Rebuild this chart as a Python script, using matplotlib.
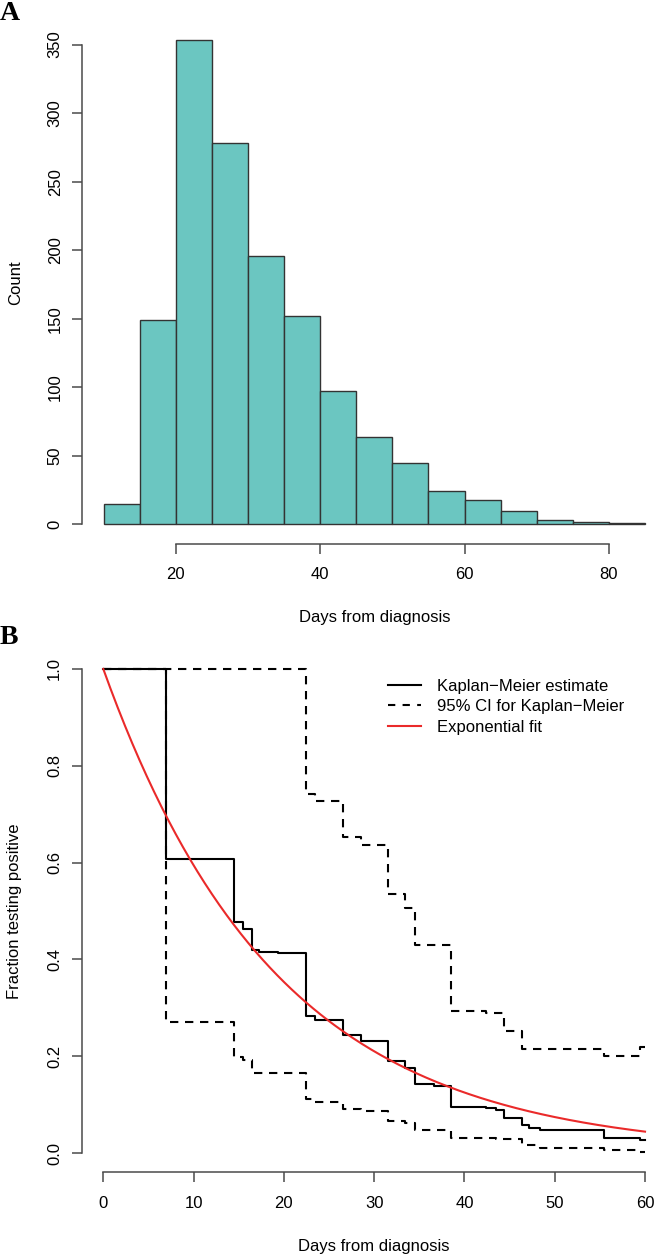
"""
Two-panel figure: histogram of days from diagnosis (A) and
Kaplan-Meier curve with exponential fit (B), drawn in an R base-graphics look.
"""

import numpy as np
import matplotlib.pyplot as plt

# ---- Panel A data: histogram of days from diagnosis ----
bin_edges = [10, 15, 20, 25, 30, 35, 40, 45, 50, 55, 60, 65, 70, 75, 80, 85]
bin_counts = [15, 149, 353, 278, 196, 152, 97, 64, 45, 24, 18, 10, 3, 2, 1]
hist_xticks = [20, 40, 60, 80]
hist_yticks = [0, 50, 100, 150, 200, 250, 300, 350]

# ---- Panel B data: Kaplan-Meier estimate and 95% CI (step changes) ----
km_times = [0, 7, 14.5, 15.5, 16.5, 17.2, 19.4, 22.5, 23.5, 26.5, 28.5, 31.5,
            33.4, 34.5, 36.6, 38.5, 42.4, 43.5, 44.4, 46.4, 47.2, 48.4, 55.5, 59.4]
km_surv = [1.0, 0.607, 0.477, 0.462, 0.42, 0.416, 0.413, 0.284, 0.275, 0.243,
           0.232, 0.19, 0.175, 0.142, 0.139, 0.094, 0.092, 0.088, 0.073, 0.057,
           0.052, 0.047, 0.032, 0.026]
km_upper = [1.0, 1.0, 1.0, 1.0, 1.0, 1.0, 1.0, 0.741, 0.727, 0.652, 0.636,
            0.536, 0.506, 0.43, 0.43, 0.294, 0.29, 0.29, 0.253, 0.214, 0.214,
            0.214, 0.2, 0.218]
km_lower = [1.0, 0.27, 0.199, 0.193, 0.165, 0.165, 0.165, 0.111, 0.105, 0.09,
            0.086, 0.067, 0.061, 0.047, 0.047, 0.032, 0.032, 0.028, 0.028,
            0.017, 0.017, 0.011, 0.007, 0.003]
km_end = 60
exp_rate = 0.052  # fitted rate of the exponential model (per day)
surv_xticks = [0, 10, 20, 30, 40, 50, 60]
surv_yticks = [0.0, 0.2, 0.4, 0.6, 0.8, 1.0]

FONT = ["Liberation Sans", "DejaVu Sans"]
FS = 12
AXIS_GREY = "#4a4a4a"
BAR_FILL = "#6bc6c1"
BAR_EDGE = "#333333"
FIT_RED = "#ea2a2a"

plt.rcParams["font.family"] = FONT
plt.rcParams["font.size"] = FS


def r_style_axes(ax, xticks, yticks, xlabel, ylabel, yfmt=None):
    """Detached R-like axes: spines only across the tick range."""
    ax.spines["top"].set_visible(False)
    ax.spines["right"].set_visible(False)
    for side in ("left", "bottom"):
        ax.spines[side].set_color(AXIS_GREY)
        ax.spines[side].set_linewidth(1.1)
    ax.spines["left"].set_bounds(yticks[0], yticks[-1])
    ax.spines["bottom"].set_bounds(xticks[0], xticks[-1])
    ax.set_xticks(xticks)
    ax.set_yticks(yticks)
    if yfmt:
        ax.set_yticklabels([yfmt.format(v) for v in yticks])
    ax.tick_params(axis="both", length=7, width=1.1, color=AXIS_GREY,
                   labelsize=FS)
    ax.tick_params(axis="x", pad=10)
    ax.tick_params(axis="y", pad=7)
    for lab in ax.get_yticklabels():
        lab.set_rotation(90)
        lab.set_va("center")
    ax.set_xlabel(xlabel, fontsize=FS, labelpad=20)
    ax.set_ylabel(ylabel, fontsize=FS, labelpad=18)


fig = plt.figure(figsize=(6.54, 12.54), dpi=100)

# ---- Panel A ----
ax_a = fig.add_axes([0.1255, 0.5664, 0.8937, 0.4168])
lefts = bin_edges[:-1]
widths = np.diff(bin_edges)
ax_a.bar(lefts, bin_counts, width=widths, align="edge",
         color=BAR_FILL, edgecolor=BAR_EDGE, linewidth=1.0)
span = bin_edges[-1] - bin_edges[0]
ax_a.set_xlim(bin_edges[0] - 0.04 * span, bin_edges[-1] + 0.04 * span)
ax_a.set_ylim(-0.04 * max(bin_counts), 1.04 * max(bin_counts))
r_style_axes(ax_a, hist_xticks, hist_yticks, "Days from diagnosis", "Count")

# ---- Panel B ----
ax_b = fig.add_axes([0.1248, 0.0651, 0.8946, 0.4169])
step_t = km_times + [km_end]
dash = (0, (4, 3.2))
ax_b.step(step_t, km_upper + [km_upper[-1]], where="post", color="black",
          linewidth=1.5, linestyle=dash)
ax_b.step(step_t, km_lower + [km_lower[-1]], where="post", color="black",
          linewidth=1.5, linestyle=dash)
ax_b.step(step_t, km_surv + [km_surv[-1]], where="post", color="black",
          linewidth=1.5)
t_fit = np.linspace(0, km_end, 300)
ax_b.plot(t_fit, np.exp(-exp_rate * t_fit), color=FIT_RED, linewidth=1.5)
ax_b.set_xlim(-0.04 * km_end, 1.04 * km_end)
ax_b.set_ylim(-0.04, 1.04)
r_style_axes(ax_b, surv_xticks, surv_yticks, "Days from diagnosis",
             "Fraction testing positive", yfmt="{:.1f}")

# legend, frameless, top right
handles = [
    plt.Line2D([], [], color="black", linewidth=1.5),
    plt.Line2D([], [], color="black", linewidth=1.5, linestyle=(0, (3.5, 3.5))),
    plt.Line2D([], [], color=FIT_RED, linewidth=1.5),
]
labels = ["Kaplan\u2212Meier estimate", "95% CI for Kaplan\u2212Meier",
          "Exponential fit"]
ax_b.legend(handles, labels, loc="upper left", bbox_to_anchor=(0.524, 0.944),
            frameon=False, fontsize=FS, handlelength=1.95, handletextpad=0.95,
            labelspacing=0.32, borderaxespad=0, borderpad=0)

# panel letters
for letter, ypos in (("A", 0.9995), ("B", 0.5015)):
    fig.text(0.0, ypos, letter, fontsize=20, fontweight="bold",
             family=["Liberation Serif", "DejaVu Serif"], ha="left", va="top")

fig.savefig("out.png", dpi=100, facecolor="white")
